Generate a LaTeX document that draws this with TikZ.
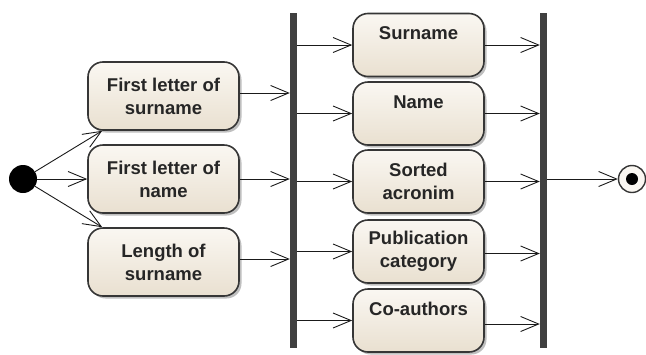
\documentclass[tikz,border=0pt]{standalone}
\usepackage{fontspec}
\setmainfont{Liberation Sans}
\usetikzlibrary{arrows.meta,shadows,calc}
\definecolor{boxtop}{HTML}{FAF7F2}
\definecolor{boxbot}{HTML}{E9E0D0}
\definecolor{boxline}{HTML}{363636}
\definecolor{barcol}{HTML}{404040}
\definecolor{arrcol}{HTML}{1A1A1A}
\begin{document}
\begin{tikzpicture}[x=1pt,y=-1pt,
  act/.style={draw=boxline, line width=1.6pt, rounded corners=15pt,
    top color=boxtop, bottom color=boxbot,
    drop shadow={shadow xshift=2.5pt, shadow yshift=-2.5pt, fill=black, opacity=0.25},
    text=black!85, font=\bfseries\fontsize{18.5}{23}\selectfont, align=center, inner sep=0pt},
  lact/.style={act, minimum width=151pt, minimum height=68pt},
  ract/.style={act, minimum width=131pt, minimum height=63pt},
  syncbar/.style={fill=barcol, minimum width=7pt, minimum height=335pt, inner sep=0pt},
  arr/.style={-{Straight Barb[length=18pt,width=15pt]}, line width=0.9pt, draw=arrcol}]
\useasboundingbox (0,0) rectangle (646,354);
\node[circle, fill=black, minimum size=28pt, inner sep=0pt] (init) at (23,179) {};
\node[lact] (b1) at (163.5,96) {First letter of\\surname};
\node[lact] (b2) at (163.5,179) {First letter of\\name};
\node[lact] (b3) at (163.5,262) {Length of\\surname};
\node[syncbar] (fork) at (293.5,180.5) {};
\node[ract] (r1) at (418.5,45) {Surname\\\mbox{}};
\node[ract] (r2) at (418.5,113.5) {Name\\\mbox{}};
\node[ract] (r3) at (418.5,181.5) {Sorted\\acronim};
\node[ract] (r4) at (418.5,251.5) {Publication\\category};
\node[ract] (r5) at (418.5,320.5) {Co-authors\\\mbox{}};
\node[syncbar] (join) at (543.5,180.5) {};
\node[circle, draw=boxline, line width=1.4pt, fill=boxtop, minimum size=27pt, inner sep=0pt] (final) at (632,179) {};
\node[circle, fill=black, minimum size=12pt, inner sep=0pt] (finaldot) at (final) {};
% initial to actions
\draw[arr] (init) -- ($(b1.south west)+(15,0)$);
\draw[arr] (init) -- (b2.west);
\draw[arr] (init) -- ($(b3.north west)+(15,0)$);
% actions to fork
\draw[arr] ([yshift=3pt]b1.east) -- ([yshift=3pt]b1.east -| fork.west);
\draw[arr] (b2.east) -- (b2.east -| fork.west);
\draw[arr] ([yshift=3pt]b3.east) -- ([yshift=3pt]b3.east -| fork.west);
% fork to actions
\foreach \n in {r1,r2,r3,r4,r5}{
  \draw[arr] (fork.east |- \n.west) -- (\n.west);
}
% actions to join
\draw[arr] (r1.east) -- (r1.east -| join.west);
\draw[arr] (r2.east) -- (r2.east -| join.west);
\draw[arr] (r3.east) -- (r3.east -| join.west);
\draw[arr] ([yshift=-2pt]r4.east) -- ([yshift=-2pt]r4.east -| join.west);
\draw[arr] ([yshift=-3.5pt]r5.east) -- ([yshift=-3.5pt]r5.east -| join.west);
% join to final
\draw[arr] (join.east |- final.west) -- (final.west);
\end{tikzpicture}
\end{document}
